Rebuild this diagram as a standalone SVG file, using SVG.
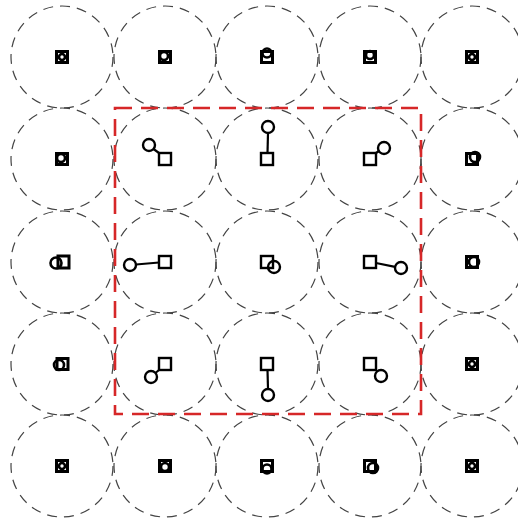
<svg xmlns="http://www.w3.org/2000/svg" width="518" height="520" viewBox="0 0 518 520">
<style>
.cell{fill:none;stroke:#444;stroke-width:1.2;stroke-dasharray:10 7}
.sq{fill:none;stroke:#000;stroke-width:2.4}
.bob{fill:none;stroke:#000;stroke-width:2.4}
.osq{fill:none;stroke:#000;stroke-width:3}
.obob{fill:none;stroke:#000;stroke-width:2.6}
.rod{stroke:#000;stroke-width:2.2;fill:none}
.frame{fill:none;stroke:#d62728;stroke-width:2.6;stroke-dasharray:17 9}
</style>
<rect width="518" height="520" fill="#fff"/>
<g id="cells">
<circle class="cell" cx="62" cy="57" r="51"/><circle class="cell" cx="165" cy="57" r="51"/><circle class="cell" cx="267" cy="57" r="51"/><circle class="cell" cx="370" cy="57" r="51"/><circle class="cell" cx="472" cy="57" r="51"/>
<circle class="cell" cx="62" cy="159" r="51"/><circle class="cell" cx="165" cy="159" r="51"/><circle class="cell" cx="267" cy="159" r="51"/><circle class="cell" cx="370" cy="159" r="51"/><circle class="cell" cx="472" cy="159" r="51"/>
<circle class="cell" cx="62" cy="262" r="51"/><circle class="cell" cx="165" cy="262" r="51"/><circle class="cell" cx="267" cy="262" r="51"/><circle class="cell" cx="370" cy="262" r="51"/><circle class="cell" cx="472" cy="262" r="51"/>
<circle class="cell" cx="62" cy="364" r="51"/><circle class="cell" cx="165" cy="364" r="51"/><circle class="cell" cx="267" cy="364" r="51"/><circle class="cell" cx="370" cy="364" r="51"/><circle class="cell" cx="472" cy="364" r="51"/>
<circle class="cell" cx="62" cy="466" r="51"/><circle class="cell" cx="165" cy="466" r="51"/><circle class="cell" cx="267" cy="466" r="51"/><circle class="cell" cx="370" cy="466" r="51"/><circle class="cell" cx="472" cy="466" r="51"/>
</g>
<g id="connectors">
<line class="rod" x1="159" y1="153" x2="153.5" y2="149"/>
<line class="rod" x1="267.5" y1="153" x2="268" y2="133"/>
<line class="rod" x1="376" y1="153" x2="379" y2="151"/>
<line class="rod" x1="159" y1="262.5" x2="136" y2="264.5"/>
<line class="rod" x1="376" y1="263" x2="395" y2="266.8"/>
<line class="rod" x1="159" y1="370" x2="155.4" y2="373"/>
<line class="rod" x1="267.5" y1="370" x2="268" y2="389"/>
</g>
<g id="n-r1c1"><rect class="osq" x="56.5" y="51.5" width="11" height="11"/><circle class="obob" cx="62" cy="57" r="3"/></g>
<g id="n-r1c2"><rect class="osq" x="159.5" y="51.5" width="11" height="11"/><circle class="obob" cx="164" cy="56" r="4"/></g>
<g id="n-r1c3"><rect class="osq" x="261.5" y="51.5" width="11" height="11"/><circle class="obob" cx="267" cy="53" r="4.5"/></g>
<g id="n-r1c4"><rect class="osq" x="364.5" y="51.5" width="11" height="11"/><circle class="obob" cx="370" cy="55" r="4"/></g>
<g id="n-r1c5"><rect class="osq" x="466.5" y="51.5" width="11" height="11"/><circle class="obob" cx="472" cy="57" r="3"/></g>
<g id="n-r2c1"><rect class="osq" x="56.5" y="153.5" width="11" height="11"/><circle class="obob" cx="61" cy="158" r="4"/></g>
<g id="n-r2c2"><rect class="sq" x="159" y="153" width="12" height="12"/><circle class="bob" cx="149" cy="145" r="6"/></g>
<g id="n-r2c3"><rect class="sq" x="261" y="153" width="12" height="12"/><circle class="bob" cx="268" cy="127" r="6"/></g>
<g id="n-r2c4"><rect class="sq" x="364" y="153" width="12" height="12"/><circle class="bob" cx="384" cy="148" r="6"/></g>
<g id="n-r2c5"><rect class="osq" x="466.5" y="153.5" width="11" height="11"/><circle class="obob" cx="475" cy="157" r="5"/></g>
<g id="n-r3c1"><rect class="osq" x="58" y="256" width="11" height="12"/><circle class="obob" cx="56" cy="263" r="5.5"/></g>
<g id="n-r3c2"><rect class="sq" x="159" y="256" width="12" height="12"/><circle class="bob" cx="130" cy="265" r="6"/></g>
<g id="n-r3c3"><rect class="sq" x="261" y="256" width="12" height="12"/><circle class="bob" cx="274" cy="267" r="6"/></g>
<g id="n-r3c4"><rect class="sq" x="364" y="256" width="12" height="12"/><circle class="bob" cx="401" cy="268" r="6"/></g>
<g id="n-r3c5"><rect class="osq" x="466.5" y="256.5" width="11" height="11"/><circle class="obob" cx="474" cy="262" r="5"/></g>
<g id="n-r4c1"><rect class="osq" x="57" y="358.5" width="11" height="11"/><circle class="obob" cx="59" cy="365" r="5"/></g>
<g id="n-r4c2"><rect class="sq" x="159" y="358" width="12" height="12"/><circle class="bob" cx="151" cy="377" r="6"/></g>
<g id="n-r4c3"><rect class="sq" x="261" y="358" width="12" height="12"/><circle class="bob" cx="268" cy="395" r="6"/></g>
<g id="n-r4c4"><rect class="sq" x="364" y="358" width="12" height="12"/><circle class="bob" cx="381" cy="376" r="6"/></g>
<g id="n-r4c5"><rect class="osq" x="466.5" y="358.5" width="11" height="11"/><circle class="obob" cx="472" cy="364" r="3"/></g>
<g id="n-r5c1"><rect class="osq" x="56.5" y="460.5" width="11" height="11"/><circle class="obob" cx="62" cy="466" r="3"/></g>
<g id="n-r5c2"><rect class="osq" x="159.5" y="460.5" width="11" height="11"/><circle class="obob" cx="165" cy="467" r="4"/></g>
<g id="n-r5c3"><rect class="osq" x="261.5" y="460.5" width="11" height="11"/><circle class="obob" cx="267" cy="469" r="4.5"/></g>
<g id="n-r5c4"><rect class="osq" x="364.5" y="460.5" width="11" height="11"/><circle class="obob" cx="373" cy="468" r="5"/></g>
<g id="n-r5c5"><rect class="osq" x="466.5" y="460.5" width="11" height="11"/><circle class="obob" cx="472" cy="466" r="3"/></g>
<g id="frame"><rect class="frame" x="115" y="108" width="306" height="306"/></g>
</svg>
